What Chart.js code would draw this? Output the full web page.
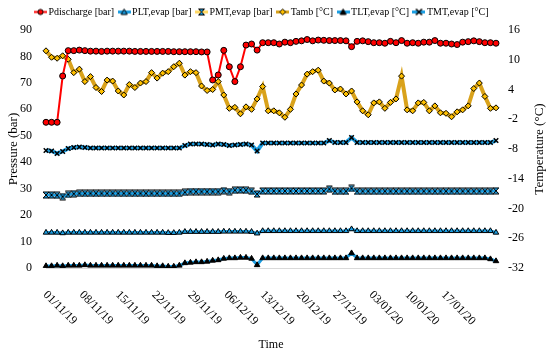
<!DOCTYPE html>
<html>
<head>
<meta charset="utf-8">
<script src="https://cdn.jsdelivr.net/npm/chart.js@4.4.1/dist/chart.umd.min.js"></script>
<style>
  html, body { margin: 0; padding: 0; background: #fff; }
  #wrap { width: 550px; height: 356px; }
</style>
</head>
<body>
<div id="wrap"><canvas id="chart"></canvas></div>
<script>
// Series (one value per sample)
const pDischarge = [55.1, 55.1, 55.1, 72.6, 82.2, 82.2, 82.4, 82.2, 82.0, 82.0,
  81.9, 82.0, 82.0, 82.0, 82.0, 82.0, 81.9, 81.9, 81.9, 81.9,
  81.9, 81.9, 81.9, 81.8, 81.8, 81.8, 81.8, 81.8, 81.7, 81.7,
  71.1, 73.0, 82.3, 76.1, 70.5, 76.1, 84.3, 84.7, 82.4, 85.2,
  85.2, 85.2, 84.7, 85.4, 85.2, 85.7, 85.9, 86.4, 85.9, 86.2,
  86.1, 86.0, 86.0, 86.0, 85.9, 83.7, 85.7, 85.9, 85.6, 85.2,
  85.2, 85.0, 85.7, 85.2, 86.0, 85.0, 85.2, 85.0, 85.4, 85.4,
  86.0, 85.0, 85.0, 84.7, 84.5, 85.4, 85.6, 85.9, 85.6, 85.2,
  85.2, 85.0];
const pLT = [13.4, 13.4, 13.4, 13.2, 13.4, 13.4, 13.4, 13.4, 13.4, 13.4,
  13.4, 13.4, 13.4, 13.4, 13.4, 13.4, 13.4, 13.4, 13.4, 13.4,
  13.4, 13.4, 13.3, 13.3, 13.4, 13.7, 13.7, 13.7, 13.7, 13.7,
  13.7, 13.7, 13.8, 13.8, 13.8, 13.8, 13.8, 13.7, 13.1, 14.0,
  14.0, 14.0, 14.0, 14.0, 14.0, 14.0, 14.0, 14.0, 14.0, 14.0,
  14.0, 14.0, 14.0, 14.0, 14.0, 14.7, 14.0, 14.0, 14.0, 14.0,
  14.0, 14.0, 14.0, 14.0, 14.0, 14.0, 14.0, 14.0, 14.0, 14.0,
  14.0, 14.0, 14.0, 14.0, 14.0, 14.0, 14.0, 14.0, 14.0, 14.0,
  14.0, 13.4];
const pMT = [27.6, 27.6, 27.5, 27.0, 27.8, 28.1, 28.2, 28.2, 28.2, 28.2,
  28.2, 28.2, 28.2, 28.2, 28.2, 28.2, 28.2, 28.2, 28.2, 28.2,
  28.2, 28.2, 28.2, 28.2, 28.2, 28.6, 28.9, 28.9, 28.9, 28.9,
  28.9, 28.9, 29.2, 28.9, 29.4, 29.5, 29.4, 29.0, 28.0, 29.1,
  29.1, 29.1, 29.1, 29.1, 29.1, 29.1, 29.1, 29.1, 29.1, 29.1,
  29.1, 29.8, 29.0, 29.0, 29.0, 30.1, 29.0, 29.0, 29.0, 29.0,
  29.0, 29.0, 29.0, 29.0, 29.0, 29.0, 29.0, 29.0, 29.0, 29.0,
  29.0, 29.0, 29.0, 29.0, 29.0, 29.0, 29.0, 29.0, 29.0, 29.0,
  29.0, 29.2];
const tAmb = [11.8, 10.5, 10.3, 10.8, 10.1, 7.4, 8.1, 5.6, 6.6, 4.4,
  3.6, 5.9, 5.7, 3.7, 2.9, 5.0, 4.4, 5.3, 5.6, 7.4,
  6.3, 7.3, 7.6, 8.6, 9.3, 6.9, 7.6, 7.4, 4.7, 3.8,
  4.0, 5.6, 2.9, 0.2, 0.4, -0.9, 0.5, 0.0, 2.1, 4.6,
  -0.3, -0.3, -0.7, -1.6, 0.0, 3.1, 4.9, 7.1, 7.6, 7.9,
  5.7, 5.3, 3.9, 4.1, 3.1, 3.7, 1.5, -0.3, -1.1, 1.3,
  1.5, 0.2, 1.4, 2.1, 6.7, -0.1, -0.3, 1.3, 1.4, -0.3,
  0.7, -0.7, -0.8, -1.5, -0.5, -0.1, 0.7, 4.2, 5.3, 2.6,
  0.2, 0.3];
const tLT = [-31.6, -31.6, -31.5, -31.6, -31.5, -31.5, -31.5, -31.4, -31.5, -31.5,
  -31.5, -31.5, -31.5, -31.5, -31.5, -31.5, -31.5, -31.5, -31.5, -31.5,
  -31.6, -31.6, -31.7, -31.7, -31.5, -31.0, -30.9, -30.8, -30.8, -30.7,
  -30.5, -30.4, -30.1, -30.0, -30.0, -29.9, -29.9, -30.1, -31.4, -30.0,
  -30.0, -30.0, -30.0, -30.0, -30.0, -30.0, -30.0, -30.0, -30.0, -30.0,
  -30.0, -30.0, -30.0, -30.0, -30.0, -29.0, -30.0, -30.0, -30.0, -30.0,
  -30.0, -30.0, -30.0, -30.0, -30.0, -30.0, -30.0, -30.0, -30.0, -30.0,
  -30.0, -30.0, -30.0, -30.0, -30.0, -30.0, -30.0, -30.0, -30.0, -30.0,
  -30.2, -30.6];
const tMT = [-8.3, -8.4, -8.9, -8.5, -7.9, -7.7, -7.6, -7.7, -7.8, -7.8,
  -7.8, -7.8, -7.8, -7.8, -7.8, -7.8, -7.8, -7.8, -7.8, -7.8,
  -7.8, -7.8, -7.8, -7.8, -7.8, -7.3, -7.0, -7.0, -7.0, -7.1,
  -7.2, -7.0, -7.1, -7.3, -7.2, -7.1, -7.0, -7.2, -8.4, -6.8,
  -6.8, -6.8, -6.8, -6.8, -6.8, -6.8, -6.8, -6.8, -6.8, -6.8,
  -6.8, -6.3, -6.7, -6.7, -6.7, -5.7, -6.7, -6.7, -6.7, -6.7,
  -6.7, -6.7, -6.7, -6.7, -6.7, -6.7, -6.7, -6.7, -6.7, -6.7,
  -6.7, -6.7, -6.7, -6.7, -6.7, -6.7, -6.7, -6.7, -6.7, -6.7,
  -6.7, -6.3];

// Sample index categories, and the weekly date ticks of the time axis
const samples = pDischarge.map((_, i) => i);
const tickLabels = ['01/11/19', '08/11/19', '15/11/19', '22/11/19', '29/11/19', '06/12/19',
  '13/12/19', '20/12/19', '27/12/19', '03/01/20', '10/01/20', '17/01/20'];
const daySpan = 87;
const tickStep = 7;

const BLUE = '#1c9ee2';
const RED = '#ff0000';
const GOLD = '#d9a21b';

Chart.defaults.font.family = '"Liberation Serif", "Times New Roman", serif';
Chart.defaults.color = '#000';

function makeCanvas(w, h, draw) {
    const c = document.createElement('canvas');
    c.width = w;
    c.height = h;
    draw(c.getContext('2d'), w, h);
    return c;
}

// marker painters, centred on (x, y)
function paintCircle(g, x, y, fill) {
    g.beginPath(); g.arc(x, y, 2.6, 0, Math.PI * 2);
    g.fillStyle = fill; g.fill();
    g.strokeStyle = '#000'; g.lineWidth = 1; g.stroke();
}
function paintTriangle(g, x, y, fill) {
    g.beginPath(); g.moveTo(x, y - 3); g.lineTo(x + 3, y + 2.5); g.lineTo(x - 3, y + 2.5); g.closePath();
    g.fillStyle = fill; g.fill();
    g.strokeStyle = '#000'; g.lineWidth = 1; g.stroke();
}
function paintDiamond(g, x, y, fill) {
    g.beginPath(); g.moveTo(x, y - 3); g.lineTo(x + 3, y); g.lineTo(x, y + 3); g.lineTo(x - 3, y); g.closePath();
    g.fillStyle = fill; g.fill();
    g.strokeStyle = '#000'; g.lineWidth = 1; g.stroke();
}
function paintHourglass(g, x, y) {
    g.beginPath(); g.moveTo(x - 3, y - 3); g.lineTo(x + 3, y - 3); g.lineTo(x - 3, y + 3); g.lineTo(x + 3, y + 3); g.closePath();
    g.fillStyle = BLUE; g.fill();
    g.strokeStyle = '#000'; g.lineWidth = 1; g.stroke();
}
function paintCross(g, x, y) {
    g.beginPath(); g.moveTo(x - 3, y - 3); g.lineTo(x + 3, y + 3); g.moveTo(x + 3, y - 3); g.lineTo(x - 3, y + 3);
    g.strokeStyle = '#000'; g.lineWidth = 1.6; g.stroke();
}

const hourglassPoint = makeCanvas(8, 8, (g) => paintHourglass(g, 4, 4));

function legendIcon(lineColor, lineWidth, marker) {
    return makeCanvas(13, 9, (g, w, h) => {
        g.beginPath(); g.moveTo(0, h / 2); g.lineTo(w, h / 2);
        g.strokeStyle = lineColor; g.lineWidth = lineWidth; g.stroke();
        marker(g, w / 2, h / 2);
    });
}

const legendIcons = [
    legendIcon(RED, 2, (g, x, y) => paintCircle(g, x, y, RED)),
    legendIcon(BLUE, 3, (g, x, y) => paintTriangle(g, x, y, BLUE)),
    legendIcon('#ffd966', 3, (g, x, y) => paintHourglass(g, x, y)),
    legendIcon(GOLD, 3, (g, x, y) => paintDiamond(g, x, y, '#ffc000')),
    legendIcon(BLUE, 3, (g, x, y) => paintTriangle(g, x, y, '#000')),
    legendIcon(BLUE, 3, (g, x, y) => paintCross(g, x, y))
];

// Legend: a bit more room below, shifted left like the original
const legendSpace = {
    id: 'legendSpace',
    beforeInit(chart) {
        const fit = chart.legend.fit;
        chart.legend.fit = function () {
            fit.call(this);
            this.height += 3;
        };
    },
    afterLayout(chart) {
        chart.legend.left -= 12;
        chart.legend.right -= 12;
    }
};

// Rotated date labels (clockwise) and the right-hand axis title
const axisDecor = {
    id: 'axisDecor',
    afterDraw(chart) {
        const ctx = chart.ctx;
        const xd = chart.scales.xd;
        const y1 = chart.scales.y1;
        const area = chart.chartArea;
        ctx.save();
        ctx.fillStyle = '#000';
        ctx.font = '12px "Liberation Serif"';
        ctx.textAlign = 'left';
        ctx.textBaseline = 'middle';
        xd.ticks.forEach((t) => {
            const label = tickLabels[Math.round(t.value / tickStep)];
            if (!label) return;
            const x = xd.getPixelForValue(t.value);
            ctx.save();
            ctx.translate(x - 1, xd.top + 25);
            ctx.rotate(Math.PI / 4);
            ctx.fillText(label, 0, 0);
            ctx.restore();
        });
        ctx.translate(y1.right - 10, (area.top + area.bottom) / 2);
        ctx.rotate(-Math.PI / 2);
        ctx.textAlign = 'center';
        ctx.font = '13px "Liberation Serif"';
        ctx.fillText('Temperature (°C)', 0, 0);
        ctx.restore();
    }
};

const ctx = document.getElementById('chart').getContext('2d');

new Chart(ctx, {
    type: 'line',
    data: {
        labels: samples,
        datasets: [
            {
                label: 'Pdischarge [bar]', data: pDischarge, yAxisID: 'y',
                borderColor: RED, borderWidth: 2,
                pointStyle: 'circle', pointRadius: 3, pointBackgroundColor: RED,
                pointBorderColor: '#000', pointBorderWidth: 1
            },
            {
                label: 'PLT,evap [bar]', data: pLT, yAxisID: 'y',
                borderColor: BLUE, borderWidth: 3,
                pointStyle: 'triangle', pointRadius: 3.2, pointBackgroundColor: BLUE,
                pointBorderColor: '#000', pointBorderWidth: 1
            },
            {
                label: 'PMT,evap [bar]', data: pMT, yAxisID: 'y',
                borderColor: BLUE, borderWidth: 3,
                pointStyle: hourglassPoint
            },
            {
                label: 'Tamb [°C]', data: tAmb, yAxisID: 'y1',
                borderColor: GOLD, borderWidth: 4,
                pointStyle: 'rectRot', pointRadius: 3, pointBackgroundColor: '#ffc000',
                pointBorderColor: '#000', pointBorderWidth: 1
            },
            {
                label: 'TLT,evap [°C]', data: tLT, yAxisID: 'y1',
                borderColor: BLUE, borderWidth: 3,
                pointStyle: 'triangle', pointRadius: 3.2, pointBackgroundColor: '#000',
                pointBorderColor: '#000', pointBorderWidth: 1
            },
            {
                label: 'TMT,evap [°C]', data: tMT, yAxisID: 'y1',
                borderColor: BLUE, borderWidth: 4,
                pointStyle: 'crossRot', pointRadius: 3.2,
                pointBorderColor: '#000', pointBorderWidth: 1.5
            }
        ]
    },
    options: {
        responsive: true,
        maintainAspectRatio: false,
        animation: false,
        layout: { padding: 0 },
        plugins: {
            legend: {
                position: 'top',
                labels: {
                    usePointStyle: true,
                    pointStyleWidth: 6,
                    padding: 7,
                    font: { size: 10 },
                    color: '#000',
                    generateLabels(chart) {
                        const items = Chart.defaults.plugins.legend.labels.generateLabels(chart);
                        items.forEach((it, i) => { it.pointStyle = legendIcons[i]; });
                        return items;
                    }
                }
            },
            tooltip: { enabled: false }
        },
        scales: {
            x: {
                type: 'category',
                display: false
            },
            xd: {
                type: 'linear',
                position: 'bottom',
                min: 0,
                max: daySpan,
                ticks: { display: false, stepSize: tickStep },
                grid: { display: false, drawTicks: false },
                border: { display: true, color: '#d9d9d9' },
                title: { display: true, text: 'Time', font: { size: 12 }, padding: { top: 0, bottom: 4 } },
                afterFit: (s) => { s.height = 88; }
            },
            y: {
                position: 'left',
                min: 0,
                max: 90,
                ticks: { stepSize: 10, padding: 14, font: { size: 12 } },
                grid: { display: false, drawTicks: false },
                border: { display: false },
                title: { display: true, text: 'Pressure (bar)', font: { size: 13 }, padding: { top: 6, bottom: 0 } },
                afterFit: (s) => { s.width = 46; }
            },
            y1: {
                position: 'right',
                min: -32,
                max: 16,
                ticks: { stepSize: 6, padding: 12, font: { size: 12 } },
                grid: { display: false, drawTicks: false },
                border: { display: false },
                afterFit: (s) => { s.width = 54; }
            }
        }
    },
    plugins: [legendSpace, axisDecor]
});
</script>
</body>
</html>
